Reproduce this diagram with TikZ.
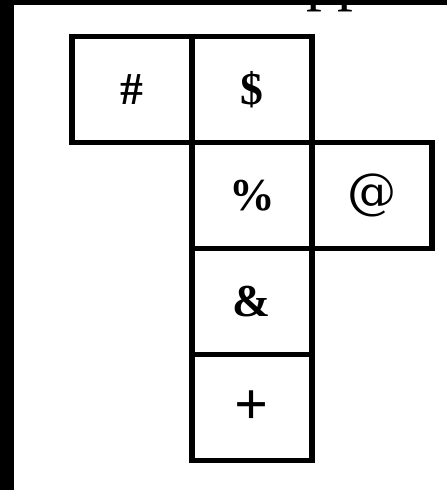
\documentclass[tikz,border=0pt]{standalone}
\usepackage{fontspec}
\setmainfont{Liberation Serif}
\newfontfamily\atfont{DejaVu Serif}
\usetikzlibrary{positioning}

\begin{document}
\begin{tikzpicture}[x=0.02cm, y=0.02cm,
  cell/.style={draw, line width=3pt, minimum width=2.4cm, minimum height=2.12cm,
    inner sep=0pt, outer sep=0pt, font=\fontsize{26}{26}\selectfont\bfseries}]
  \useasboundingbox (0,0) rectangle (447,490);
  \fill[white] (0,0) rectangle (447,490);

  % cut-off text at the top
  \node[anchor=base west, inner sep=0pt, font=\fontsize{36}{36}\selectfont] (cut) at (306,491) {pp};

  % black edges of the scan
  \fill[black] (0,0) rectangle (14,490);
  \fill[black] (0,485) rectangle (447,490);

  % the net
  \node[cell] (dollar) at (252,400.5) {\$};
  \node[cell, left=0pt of dollar] (hash) {\#};
  \node[cell, below=0pt of dollar] (percent) {\%};
  \node[cell, right=0pt of percent, font=\fontsize{28}{28}\atfont] (at) {@};
  \node[cell, below=0pt of percent] (amp) {\&};
  \node[cell, below=0pt of amp, font=\fontsize{34}{34}\selectfont\bfseries] (plus) {+};
\end{tikzpicture}
\end{document}
